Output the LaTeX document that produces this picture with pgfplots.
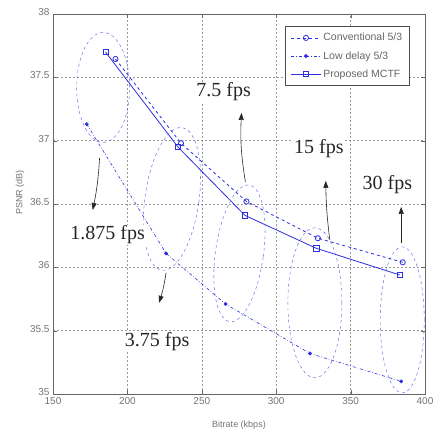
\documentclass[border=0pt]{standalone}
\usepackage{fontspec}
\setmainfont{Liberation Serif}
\setsansfont{Liberation Sans}
\usepackage{pgfplots}
\pgfplotsset{compat=1.18}
\usetikzlibrary{arrows.meta}
\definecolor{mblue}{RGB}{45,45,225}

\begin{document}
\begin{tikzpicture}
\useasboundingbox (-53pt,-39pt) rectangle (380pt,394pt);
\begin{axis}[
    scale only axis,
    width=372pt, height=380pt,
    xmin=150, xmax=400, ymin=35, ymax=38,
    xtick={150,200,...,400},
    ytick={35,35.5,...,38},
    tick align=inside,
    grid=major,
    major grid style={dash pattern=on 2pt off 2pt, black!40},
    axis line style={black!60},
    tick style={black!60},
    xticklabel style={font=\sffamily\fontsize{10}{11}\selectfont, text=black!55},
    yticklabel style={font=\sffamily\fontsize{10}{11}\selectfont, text=black!55, yshift=2pt},
    /pgf/number format/assume math mode=true,
    xlabel={Bitrate (kbps)},
    ylabel={PSNR (dB)},
    every axis x label/.style={at={(axis description cs:0.5,0)}, anchor=center, yshift=-31pt,
        font=\sffamily\fontsize{9}{10}\selectfont, text=black!55},
    every axis y label/.style={at={(axis description cs:0,0.53)}, rotate=90, anchor=center, yshift=33pt,
        font=\sffamily\fontsize{9}{10}\selectfont, text=black!55},
    legend style={at={(0.958,0.968)}, anchor=north east, draw=black!70,
        font=\sffamily\fontsize{10.5}{12}\selectfont, text=black!60,
        row sep=5pt, inner xsep=5pt, inner ysep=5pt},
    legend cell align=left,
    legend image code/.code={
        \draw[mark repeat=2, mark phase=2, #1] plot coordinates {(0pt,0pt) (15pt,0pt) (30pt,0pt)};
    },
]
\addplot[mblue, thick, dashed, mark=o, mark options={solid, scale=1.3}] coordinates {
    (192,37.645) (236,36.98) (280,36.52) (328,36.23) (385,36.04)
};
\addlegendentry{Conventional 5/3}
\addplot[mblue, semithick, dash dot, mark=*, mark size=1.6pt, mark options={solid}] coordinates {
    (172.7,37.13) (226,36.11) (266,35.71) (322.7,35.32) (384,35.10)
};
\addlegendentry{Low delay 5/3}
\addplot[mblue, thick, mark=square, mark options={scale=1.3}] coordinates {
    (185.3,37.70) (234,36.95) (279,36.41) (327,36.15) (383,35.94)
};
\addlegendentry{Proposed MCTF}

% ellipses round the frame-rate groups
\draw[mblue!80, thin, dashed] (axis cs:183.7,37.42) ellipse [x radius=26.5pt, y radius=55pt];
\draw[mblue!80, thin, dashed, rotate around={-8:(axis cs:230,36.54)}] (axis cs:230,36.54) ellipse [x radius=27pt, y radius=72pt];
\draw[mblue!80, thin, dashed, rotate around={-8:(axis cs:275.3,36.11)}] (axis cs:275.3,36.11) ellipse [x radius=24pt, y radius=69pt];
\draw[mblue!80, thin, dashed] (axis cs:326,35.72) ellipse [x radius=27pt, y radius=75pt];
\draw[mblue!80, thin, dashed] (axis cs:384.7,35.585) ellipse [x radius=22pt, y radius=73pt];

% arrows
\draw[black!85, semithick, -{Triangle[length=7pt,width=5pt]}] (axis cs:279.3,36.674) to[bend left=6] (axis cs:276.7,37.219);
\draw[black!85, semithick, -{Triangle[length=7pt,width=5pt]}] (axis cs:336,36.216) to[bend left=3] (axis cs:333.3,36.682);
\draw[black!85, semithick, -{Triangle[length=7pt,width=5pt]}] (axis cs:384,36.19) -- (axis cs:384,36.477);
\draw[black!85, semithick, -{Triangle[length=7pt,width=5pt]}] (axis cs:181.3,36.863) to[bend left=4] (axis cs:176.7,36.453);
\draw[black!85, semithick, -{Triangle[length=7pt,width=5pt]}] (axis cs:226,35.956) to[bend left=4] (axis cs:221.3,35.72);

% labels
\tikzset{fpslab/.style={font=\fontsize{20}{21}\selectfont, text=black!85, fill=white, inner sep=1pt}}
\node[fpslab] at (axis cs:264.7,37.384) {7.5 fps};
\node[fpslab] at (axis cs:328.7,36.94) {15 fps};
\node[fpslab] at (axis cs:374.7,36.65) {30 fps};
\node[fpslab] at (axis cs:186.7,36.256) {1.875 fps};
\node[fpslab] at (axis cs:220,35.41) {3.75 fps};
\end{axis}
\end{tikzpicture}
\end{document}
